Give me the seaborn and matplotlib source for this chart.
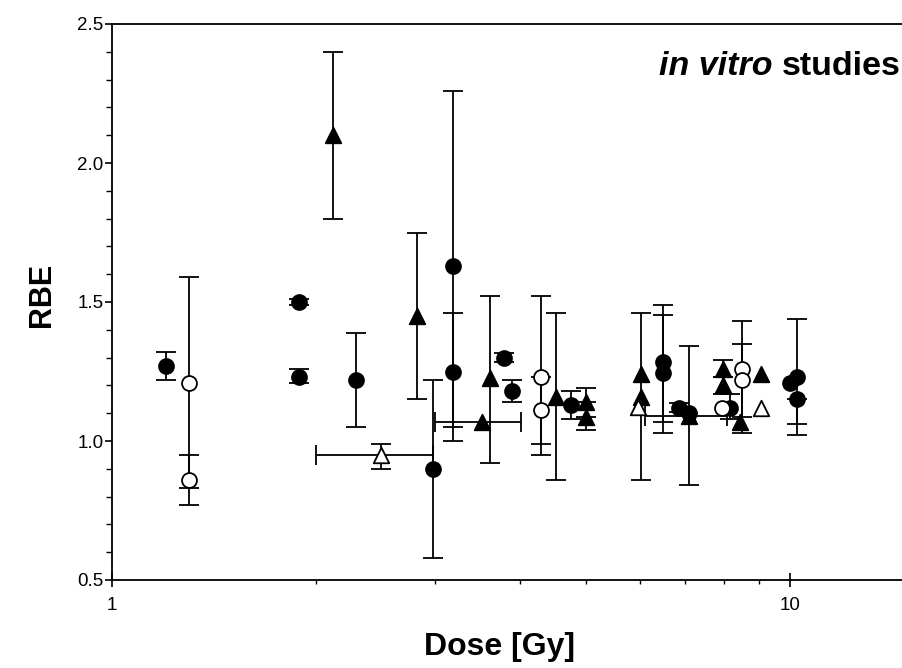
import numpy as np
import pandas as pd
import matplotlib
matplotlib.use("Agg")
import matplotlib.pyplot as plt
import seaborn as sns
from matplotlib.ticker import FixedLocator, NullFormatter, MultipleLocator

# RBE versus dose, in vitro studies (four endpoint groups)
# filled circles
fc_dose = [1.20, 1.89, 1.89, 2.29, 2.975, 3.18, 3.18, 3.79, 3.89, 4.76, 6.49, 6.49, 6.86, 7.10, 8.16, 10.0, 10.24, 10.24]
fc_rbe  = [1.27, 1.50, 1.23, 1.22, 0.90, 1.63, 1.25, 1.30, 1.18, 1.13, 1.285, 1.243, 1.12, 1.10, 1.12, 1.21, 1.23, 1.15]
fc_lo   = [1.22, 1.49, 1.21, 1.05, 0.58, 1.00, 1.05, 1.285, 1.14, 1.08, 1.07, 1.03, 1.105, np.nan, 1.08, np.nan, 1.06, 1.02]
fc_hi   = [1.32, 1.51, 1.26, 1.39, 1.22, 2.26, 1.46, 1.315, 1.22, 1.18, 1.49, 1.453, 1.135, np.nan, 1.17, np.nan, 1.44, 1.15]

# open circles
oc_dose = [1.30, 1.30, 4.29, 4.29, 7.95, 8.51, 8.51]
oc_rbe  = [1.21, 0.86, 1.23, 1.11, 1.12, 1.26, 1.22]
oc_lo   = [0.83, 0.77, 0.99, 0.95, np.nan, 1.087, 1.03]
oc_hi   = [1.59, 0.95, 1.52, 1.23, np.nan, 1.43, 1.35]

# filled triangles
ft_dose = [2.12, 2.815, 3.61, 3.51, 4.51, 5.01, 5.01, 6.02, 6.02, 7.10, 7.97, 7.97, 8.44, 9.06]
ft_rbe  = [2.10, 1.45, 1.225, 1.07, 1.16, 1.14, 1.087, 1.24, 1.16, 1.09, 1.26, 1.20, 1.07, 1.24]
ft_lo   = [1.80, 1.15, 0.92, np.nan, 0.86, 1.14, 1.04, 0.86, np.nan, 0.84, 1.23, 1.17, np.nan, np.nan]
ft_hi   = [2.40, 1.75, 1.52, np.nan, 1.46, 1.19, 1.087, 1.46, np.nan, 1.34, 1.29, 1.23, np.nan, np.nan]
ft_xlo  = [np.nan, np.nan, np.nan, 3.00, np.nan, np.nan, np.nan, np.nan, np.nan, 6.11, np.nan, np.nan, np.nan, np.nan]
ft_xhi  = [np.nan, np.nan, np.nan, 4.01, np.nan, np.nan, np.nan, np.nan, np.nan, 8.07, np.nan, np.nan, np.nan, np.nan]

# open triangles
ot_dose = [2.49, 5.97, 9.06]
ot_rbe  = [0.95, 1.124, 1.12]
ot_lo   = [0.90, np.nan, np.nan]
ot_hi   = [0.99, np.nan, np.nan]
ot_xlo  = [2.00, np.nan, np.nan]
ot_xhi  = [2.975, np.nan, np.nan]

sns.set_theme(style="ticks")
plt.rcParams["font.family"] = ["Liberation Sans", "DejaVu Sans"]
plt.rcParams["text.color"] = "black"
plt.rcParams["axes.labelcolor"] = "black"
plt.rcParams["xtick.color"] = "black"
plt.rcParams["ytick.color"] = "black"

fig = plt.figure(figsize=(9.03, 6.68), dpi=100)
ax = fig.add_axes([112 / 903, 88 / 668, 800 / 903, 556 / 668])
ax.set_xscale("log")

groups = [
    dict(dose=fc_dose, rbe=fc_rbe, lo=fc_lo, hi=fc_hi, marker="o", face="black"),
    dict(dose=oc_dose, rbe=oc_rbe, lo=oc_lo, hi=oc_hi, marker="o", face="white"),
    dict(dose=ft_dose, rbe=ft_rbe, lo=ft_lo, hi=ft_hi, xlo=ft_xlo, xhi=ft_xhi, marker="^", face="black"),
    dict(dose=ot_dose, rbe=ot_rbe, lo=ot_lo, hi=ot_hi, xlo=ot_xlo, xhi=ot_xhi, marker="^", face="white"),
]

bar_kw = dict(fmt="none", ecolor="black", elinewidth=1.3, capsize=7.5, capthick=1.3, zorder=2)

for g in groups:
    df = pd.DataFrame({"dose": g["dose"], "rbe": g["rbe"], "lo": g["lo"], "hi": g["hi"]})
    if "xlo" in g:
        df["xlo"] = g["xlo"]
        df["xhi"] = g["xhi"]
    # vertical error bars
    v = df.dropna(subset=["lo", "hi"])
    if len(v):
        ax.errorbar(v["dose"], v["rbe"],
                    yerr=[v["rbe"] - v["lo"], v["hi"] - v["rbe"]], **bar_kw)
    # horizontal error bars (dose ranges)
    if "xlo" in df:
        h = df.dropna(subset=["xlo", "xhi"])
        if len(h):
            ax.errorbar(h["dose"], h["rbe"],
                        xerr=[h["dose"] - h["xlo"], h["xhi"] - h["dose"]], **bar_kw)
    size = 115 if g["marker"] == "o" else 125
    sns.scatterplot(data=df, x="dose", y="rbe", marker=g["marker"], s=size,
                    color=g["face"], edgecolor="black", linewidth=1.3,
                    zorder=3, legend=False, ax=ax)

ax.set_xlim(1, 10 ** (800 / 678))
ax.set_ylim(0.5, 2.5)

ax.set_xticks([1, 10])
ax.set_xticklabels(["1", "10"])
ax.xaxis.set_minor_locator(FixedLocator([2, 3, 4, 5, 6, 7, 8, 9]))
ax.xaxis.set_minor_formatter(NullFormatter())
ax.yaxis.set_major_locator(MultipleLocator(0.5))
ax.yaxis.set_minor_locator(MultipleLocator(0.1))
ax.set_yticklabels([f"{t:.1f}" for t in ax.get_yticks()])

ax.tick_params(axis="x", which="major", direction="inout", length=10, width=1.2,
               labelsize=13.5, pad=7)
ax.tick_params(axis="x", which="minor", direction="out", length=3, width=1.0)
ax.tick_params(axis="y", which="major", direction="out", length=5, width=1.2,
               labelsize=13.5, pad=1)
ax.tick_params(axis="y", which="minor", direction="out", length=4, width=1.0)

for side in ["left", "bottom", "top"]:
    ax.spines[side].set_linewidth(1.3)
    ax.spines[side].set_color("black")
ax.spines["right"].set_visible(False)

ax.set_xlabel("Dose [Gy]", fontsize=23, fontweight="bold")
ax.set_ylabel("RBE", fontsize=22, fontweight="bold")
ax.xaxis.set_label_coords((500 - 112) / 800, (580 - 632) / 556)
ax.yaxis.set_label_coords((57 - 112) / 800, (580 - 295) / 556)

# panel title: italic "in vitro" followed by upright "studies"
t1 = ax.text(901 / 903, 1 - 75 / 668, "studies", transform=fig.transFigure,
             ha="right", va="baseline", fontsize=24.5, fontweight="bold")
ax.annotate("in vitro ", xy=(0, 0), xycoords=t1, ha="right", va="bottom",
            fontsize=24.5, fontweight="bold", fontstyle="italic")

fig.savefig("out.png", dpi=100, facecolor="white")
